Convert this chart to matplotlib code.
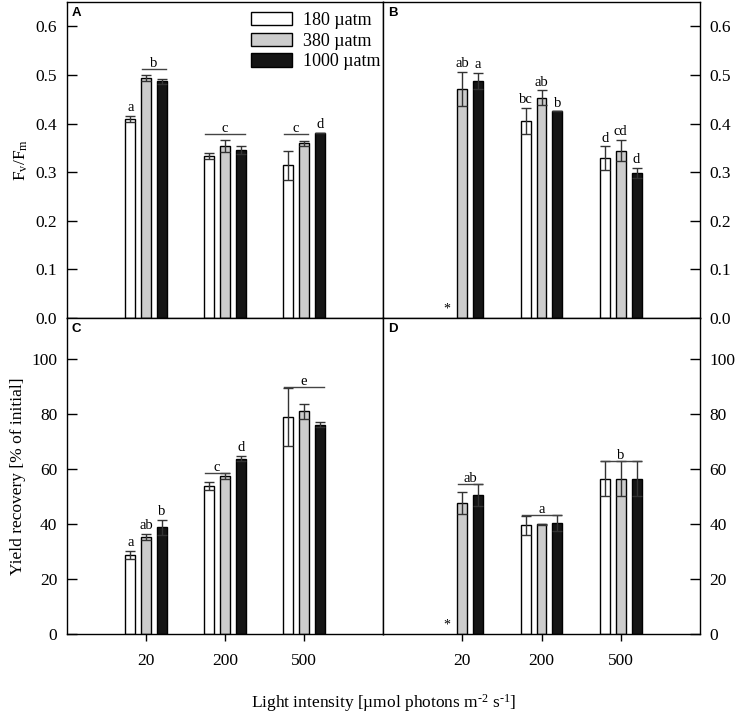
import numpy as np
import matplotlib
matplotlib.use('Agg')
import matplotlib.pyplot as plt

plt.rcParams['font.family'] = ['Liberation Serif', 'DejaVu Serif']
plt.rcParams['mathtext.fontset'] = 'custom'
plt.rcParams['mathtext.rm'] = 'Liberation Serif'
plt.rcParams['mathtext.it'] = 'Liberation Serif:italic'

# data
light = ['20', '200', '500']
co2 = ['180 µatm', '380 µatm', '1000 µatm']
colors = ['white', '#cccccc', '#151515']

# A: Fv/Fm, B: Fv/Fm (second condition)
fv_a_180 = [0.409, 0.333, 0.314]
fv_a_380 = [0.494, 0.354, 0.359]
fv_a_1000 = [0.487, 0.346, 0.381]
fv_a_err_180 = [0.006, 0.006, 0.030]
fv_a_err_380 = [0.006, 0.012, 0.006]
fv_a_err_1000 = [0.005, 0.008, 0.0]

fv_b_180 = [np.nan, 0.405, 0.329]
fv_b_380 = [0.472, 0.453, 0.344]
fv_b_1000 = [0.488, 0.425, 0.298]
fv_b_err_180 = [np.nan, 0.027, 0.024]
fv_b_err_380 = [0.035, 0.015, 0.022]
fv_b_err_1000 = [0.016, 0.0, 0.010]

# C, D: yield recovery [% of initial]
yr_c_180 = [28.8, 53.8, 79.1]
yr_c_380 = [35.3, 57.4, 81.0]
yr_c_1000 = [38.8, 63.8, 76.2]
yr_c_err_180 = [1.5, 1.4, 10.6]
yr_c_err_380 = [1.1, 1.1, 2.8]
yr_c_err_1000 = [2.6, 0.9, 0.9]

yr_d_180 = [np.nan, 39.5, 56.5]
yr_d_380 = [47.7, 39.9, 56.5]
yr_d_1000 = [50.6, 40.4, 56.5]
yr_d_err_180 = [np.nan, 3.6, 6.4]
yr_d_err_380 = [4.1, 0.3, 6.4]
yr_d_err_1000 = [3.9, 2.8, 6.4]

# significance letters: (group, bars covered, letter)
sig_a = [(0, [0], 'a'), (0, [1, 2], 'b'), (1, [0, 1, 2], 'c'), (2, [0, 1], 'c'), (2, [2], 'd')]
sig_b = [(0, [1], 'ab'), (0, [2], 'a'), (1, [0], 'bc'), (1, [1], 'ab'), (1, [2], 'b'),
         (2, [0], 'd'), (2, [1], 'cd'), (2, [2], 'd')]
sig_c = [(0, [0], 'a'), (0, [1], 'ab'), (0, [2], 'b'), (1, [0, 1], 'c'), (1, [2], 'd'), (2, [0, 1, 2], 'e')]
sig_d = [(0, [1, 2], 'ab'), (1, [0, 1, 2], 'a'), (2, [0, 1, 2], 'b')]

panels = [
    ('A', [fv_a_180, fv_a_380, fv_a_1000], [fv_a_err_180, fv_a_err_380, fv_a_err_1000], sig_a),
    ('B', [fv_b_180, fv_b_380, fv_b_1000], [fv_b_err_180, fv_b_err_380, fv_b_err_1000], sig_b),
    ('C', [yr_c_180, yr_c_380, yr_c_1000], [yr_c_err_180, yr_c_err_380, yr_c_err_1000], sig_c),
    ('D', [yr_d_180, yr_d_380, yr_d_1000], [yr_d_err_180, yr_d_err_380, yr_d_err_1000], sig_d),
]

fig = plt.figure(figsize=(7.37, 7.14), dpi=100)
L, M, R = 67 / 737, 383 / 737, 700 / 737
T, S, B = 1 - 2 / 714, 1 - 318 / 714, 1 - 634 / 714
pos = {'A': [L, S, M - L, T - S], 'B': [M, S, R - M, T - S],
       'C': [L, B, M - L, S - B], 'D': [M, B, R - M, S - B]}

x = np.arange(1, len(light) + 1)
offs = [-0.2, 0.0, 0.2]
w = 0.125

for name, vals, errs, sig in panels:
    ax = fig.add_axes(pos[name])
    for k in range(3):
        v = np.array(vals[k], dtype=float)
        e = np.array(errs[k], dtype=float)
        ok = ~np.isnan(v)
        ax.bar(x[ok] + offs[k], v[ok], w, color=colors[k], edgecolor='black',
               linewidth=1.0, label=co2[k], zorder=2)
        ax.errorbar(x[ok] + offs[k], v[ok], yerr=e[ok], fmt='none', ecolor='#333333',
                    elinewidth=1.0, capsize=3.5, capthick=1.0, zorder=3)
        # missing values marked with an asterisk
        for i in np.where(~ok)[0]:
            ax.annotate('*', (x[i] + offs[k], 0), xytext=(0, 2), textcoords='offset points',
                        ha='center', va='bottom', fontsize=10)

    for g, idx, lab in sig:
        ytop = max(vals[k][g] + errs[k][g] for k in idx)
        if len(idx) == 1:
            ax.annotate(lab, (x[g] + offs[idx[0]], ytop), xytext=(0, 3.5),
                        textcoords='offset points', ha='center', va='baseline', fontsize=10.5)
        else:
            x0 = x[g] + offs[idx[0]] - 0.05
            x1 = x[g] + offs[idx[-1]] + 0.05
            yl = ax.transData.inverted().transform(ax.transData.transform((0, ytop)) + (0, 4))[1]
            ax.plot([x0, x1], [yl, yl], color='#444444', lw=1.0, zorder=3)
            ax.annotate(lab, ((x0 + x1) / 2, yl), xytext=(0, 1.5),
                        textcoords='offset points', ha='center', va='baseline', fontsize=10.5)

    ax.set_xlim(0, 4)
    if name in 'AB':
        ax.set_ylim(0, 0.65)
        ax.set_yticks(np.arange(0, 0.61, 0.1))
        ax.set_yticklabels(['%.1f' % t for t in np.arange(0, 0.61, 0.1)])
        ax.set_xticks([])
    else:
        ax.set_ylim(0, 115)
        ax.set_yticks(np.arange(0, 101, 20))
        ax.set_xticks(x)
        ax.set_xticklabels(light)
        ax.tick_params(axis='x', direction='out', length=5, width=1, pad=9, labelsize=12.5)
    if name in 'BD':
        ax.yaxis.tick_right()
    ax.tick_params(axis='y', direction='in', length=7, width=1, pad=7, labelsize=12.5)
    for sp in ax.spines.values():
        sp.set_linewidth(1.0)
    ax.text(0.015, 0.985, name, transform=ax.transAxes, ha='left', va='top',
            fontsize=9.5, fontweight='bold', family='Liberation Sans')

    if name == 'A':
        ax.legend(loc='upper right', bbox_to_anchor=(1.01, 0.985), frameon=False, fontsize=13,
                  handlelength=2.3, handleheight=0.75, handletextpad=0.6, labelspacing=0.2,
                  borderpad=0.3, borderaxespad=0.0)
        ax.set_ylabel(r'F$_\mathregular{v}$/F$_\mathregular{m}$', fontsize=12.5, labelpad=4)
    if name == 'C':
        ax.set_ylabel('Yield recovery [% of initial]', fontsize=12.5, labelpad=4)

fig.text((L + R) / 2, 1 - 703 / 714,
         r'Light intensity [µmol photons m$^{\mathregular{\text{-2}}}$ s$^{\mathregular{\text{-1}}}$]',
         ha='center', va='center', fontsize=12.5)

fig.savefig('out.png', dpi=100)
